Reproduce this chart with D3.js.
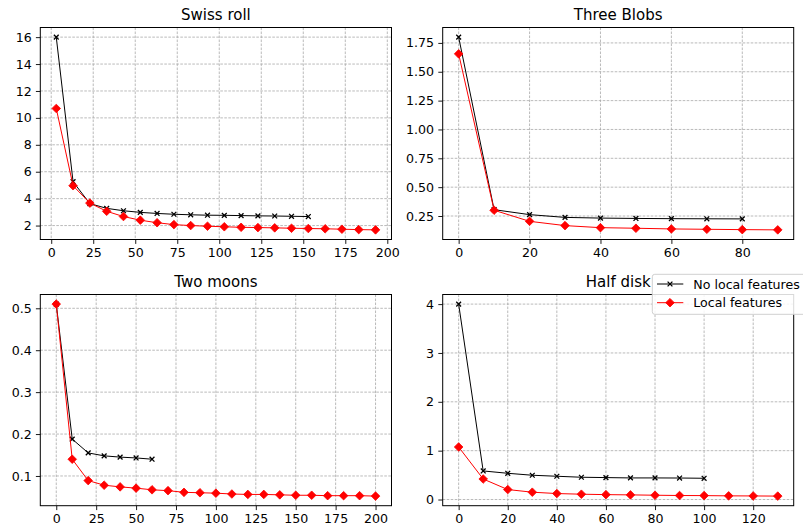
<!DOCTYPE html>
<html>
<head>
<meta charset="utf-8">
<script src="https://cdn.jsdelivr.net/npm/d3@7"></script>
<style>
  html, body { margin: 0; padding: 0; background: #fff; }
  svg { display: block; font-family: "DejaVu Sans", sans-serif; }
</style>
</head>
<body>
<svg id="fig" width="803" height="529"></svg>
<script>
// ---- Swiss roll ----
const swissXNoLocal = [3, 13, 23, 33, 43, 53, 63, 73, 83, 93, 103, 113, 123, 133, 143, 153];
const swissNoLocal  = [16.0, 5.26, 3.63, 3.28, 3.10, 2.98, 2.90, 2.84, 2.80, 2.77, 2.76, 2.74, 2.72, 2.71, 2.69, 2.67];
const swissXLocal   = [3, 13, 23, 33, 43, 53, 63, 73, 83, 93, 103, 113, 123, 133, 143, 153, 163, 173, 183, 193];
const swissLocal    = [10.7, 4.96, 3.67, 3.06, 2.67, 2.40, 2.21, 2.07, 2.00, 1.95, 1.91, 1.87, 1.85, 1.83, 1.80, 1.78, 1.76, 1.73, 1.70, 1.68];
const swissXTicks   = [0, 25, 50, 75, 100, 125, 150, 175, 200];
const swissYTicks   = [2, 4, 6, 8, 10, 12, 14, 16];

// ---- Three Blobs ----
const blobsXNoLocal = [0, 10, 20, 30, 40, 50, 60, 70, 80];
const blobsNoLocal  = [1.80, 0.305, 0.262, 0.238, 0.232, 0.229, 0.227, 0.226, 0.225];
const blobsXLocal   = [0, 10, 20, 30, 40, 50, 60, 70, 80, 90];
const blobsLocal    = [1.655, 0.300, 0.204, 0.167, 0.149, 0.144, 0.138, 0.135, 0.132, 0.130];
const blobsXTicks   = [0, 20, 40, 60, 80];
const blobsYTicks   = [0.25, 0.50, 0.75, 1.00, 1.25, 1.50, 1.75];

// ---- Two moons ----
const moonsXNoLocal = [0, 10, 20, 30, 40, 50, 60];
const moonsNoLocal  = [0.510, 0.188, 0.155, 0.148, 0.145, 0.143, 0.140];
const moonsXLocal   = [0, 10, 20, 30, 40, 50, 60, 70, 80, 90, 100, 110, 120, 130, 140, 150, 160, 170, 180, 190, 200];
const moonsLocal    = [0.510, 0.140, 0.089, 0.078, 0.074, 0.071, 0.067, 0.065, 0.061, 0.060, 0.059, 0.057, 0.056, 0.056, 0.055, 0.054, 0.054, 0.053, 0.053, 0.053, 0.052];
const moonsXTicks   = [0, 25, 50, 75, 100, 125, 150, 175, 200];
const moonsYTicks   = [0.1, 0.2, 0.3, 0.4, 0.5];

// ---- Half disk ----
const diskXNoLocal  = [0, 10, 20, 30, 40, 50, 60, 70, 80, 90, 100];
const diskNoLocal   = [4.0, 0.585, 0.537, 0.497, 0.476, 0.456, 0.449, 0.442, 0.442, 0.440, 0.435];
const diskXLocal    = [0, 10, 20, 30, 40, 50, 60, 70, 80, 90, 100, 110, 120, 130];
const diskLocal     = [1.075, 0.420, 0.204, 0.150, 0.122, 0.109, 0.100, 0.095, 0.088, 0.082, 0.080, 0.075, 0.073, 0.070];
const diskXTicks    = [0, 20, 40, 60, 80, 100, 120];
const diskYTicks    = [0, 1, 2, 3, 4];

const seriesNames = ["No local features", "Local features"];

// Panel layout (axes rectangles in pixels)
const panels = [
  { title: "Swiss roll", box: [40.3, 27.5, 391.5, 239.5],
    xs: [swissXNoLocal, swissXLocal], ys: [swissNoLocal, swissLocal],
    xTicks: swissXTicks, yTicks: swissYTicks, yFmt: d3.format("d") },
  { title: "Three Blobs", box: [442.7, 27.5, 793.7, 239.5],
    xs: [blobsXNoLocal, blobsXLocal], ys: [blobsNoLocal, blobsLocal],
    xTicks: blobsXTicks, yTicks: blobsYTicks, yFmt: d3.format(".2f") },
  { title: "Two moons", box: [40.3, 294.5, 391.5, 505.7],
    xs: [moonsXNoLocal, moonsXLocal], ys: [moonsNoLocal, moonsLocal],
    xTicks: moonsXTicks, yTicks: moonsYTicks, yFmt: d3.format(".1f") },
  { title: "Half disk", box: [442.7, 294.5, 793.7, 505.7],
    xs: [diskXNoLocal, diskXLocal], ys: [diskNoLocal, diskLocal],
    xTicks: diskXTicks, yTicks: diskYTicks, yFmt: d3.format("d") }
];

const styles = [
  { color: "#000000", marker: "x" },
  { color: "#ff0000", marker: "D" }
];

const svg = d3.select("#fig");

// 5% padding on both ends of the data range
function padded(extent) {
  const span = extent[1] - extent[0];
  return [extent[0] - 0.05 * span, extent[1] + 0.05 * span];
}

function markerPath(kind) {
  if (kind === "D") {
    const r = 4.3;
    return `M0,${-r}L${r},0L0,${r}L${-r},0Z`;
  }
  const a = 2.4;
  return `M${-a},${-a}L${a},${a}M${-a},${a}L${a},${-a}`;
}

function drawMarker(sel, kind, color) {
  if (kind === "D") {
    sel.attr("d", markerPath("D")).attr("fill", color).attr("stroke", color).attr("stroke-width", 0.8);
  } else {
    sel.attr("d", markerPath("x")).attr("fill", "none").attr("stroke", color).attr("stroke-width", 1.3);
  }
}

panels.forEach(p => {
  const [x0, y0, x1, y1] = p.box;
  const allX = p.xs.flat(), allY = p.ys.flat();
  const x = d3.scaleLinear().domain(padded(d3.extent(allX))).range([x0, x1]);
  const y = d3.scaleLinear().domain(padded(d3.extent(allY))).range([y1, y0]);

  const g = svg.append("g");

  // grid
  const grid = g.append("g").attr("stroke", "#a8a8a8").attr("stroke-width", 0.8)
    .attr("stroke-dasharray", "2.6,1.4");
  grid.selectAll(".gx").data(p.xTicks).join("line")
    .attr("x1", d => x(d)).attr("x2", d => x(d)).attr("y1", y0).attr("y2", y1);
  grid.selectAll(".gy").data(p.yTicks).join("line")
    .attr("y1", d => y(d)).attr("y2", d => y(d)).attr("x1", x0).attr("x2", x1);

  // axes
  const xAxis = d3.axisBottom(x).tickValues(p.xTicks).tickFormat(d3.format("d"))
    .tickSize(4.4).tickPadding(4.2).tickSizeOuter(0);
  const yAxis = d3.axisLeft(y).tickValues(p.yTicks).tickFormat(p.yFmt)
    .tickSize(4.4).tickPadding(4.2).tickSizeOuter(0);
  const gx = g.append("g").attr("transform", `translate(0,${y1})`).call(xAxis);
  const gy = g.append("g").attr("transform", `translate(${x0},0)`).call(yAxis);
  [gx, gy].forEach(a => {
    a.select(".domain").remove();
    a.selectAll("line").attr("stroke", "#000").attr("stroke-width", 0.9);
    a.selectAll("text").attr("fill", "#000").style("font-size", "12.6px")
      .style("font-family", "'DejaVu Sans', sans-serif");
  });

  // series lines and markers
  const clipId = "clip" + p.title.replace(/\s/g, "");
  svg.append("clipPath").attr("id", clipId).append("rect")
    .attr("x", x0).attr("y", y0).attr("width", x1 - x0).attr("height", y1 - y0);
  const plot = g.append("g").attr("clip-path", `url(#${clipId})`);
  p.ys.forEach((vals, si) => {
    const pts = vals.map((v, i) => [p.xs[si][i], v]);
    const st = styles[si];
    plot.append("path").datum(pts)
      .attr("d", d3.line().x(d => x(d[0])).y(d => y(d[1])))
      .attr("fill", "none").attr("stroke", st.color).attr("stroke-width", 1);
    plot.append("g").selectAll("path").data(pts).join("path")
      .attr("transform", d => `translate(${x(d[0])},${y(d[1])})`)
      .call(s => drawMarker(s, st.marker, st.color));
  });

  // frame
  g.append("rect").attr("x", x0).attr("y", y0).attr("width", x1 - x0).attr("height", y1 - y0)
    .attr("fill", "none").attr("stroke", "#000").attr("stroke-width", 1);

  // title
  g.append("text").attr("x", (x0 + x1) / 2).attr("y", y0 - 8)
    .attr("text-anchor", "middle").style("font-size", "15px").attr("fill", "#000")
    .text(p.title);
});

// legend (overlaps the top-right corner of the last panel)
const leg = svg.append("g");
leg.append("rect").attr("x", 652.3).attr("y", 274.3).attr("width", 160).attr("height", 40)
  .attr("rx", 2.5).attr("fill", "#ffffff").attr("fill-opacity", 0.85)
  .attr("stroke", "#d0d0d0").attr("stroke-width", 1);
seriesNames.forEach((name, i) => {
  const cy = 284 + i * 18.7;
  const st = styles[i];
  leg.append("line").attr("x1", 657).attr("x2", 683.3).attr("y1", cy).attr("y2", cy)
    .attr("stroke", st.color).attr("stroke-width", 1);
  leg.append("path").attr("transform", `translate(670,${cy})`).call(s => drawMarker(s, st.marker, st.color));
  leg.append("text").attr("x", 693.3).attr("y", cy).attr("dy", "0.36em")
    .style("font-size", "12.6px").attr("fill", "#000").text(name);
});
</script>
</body>
</html>
